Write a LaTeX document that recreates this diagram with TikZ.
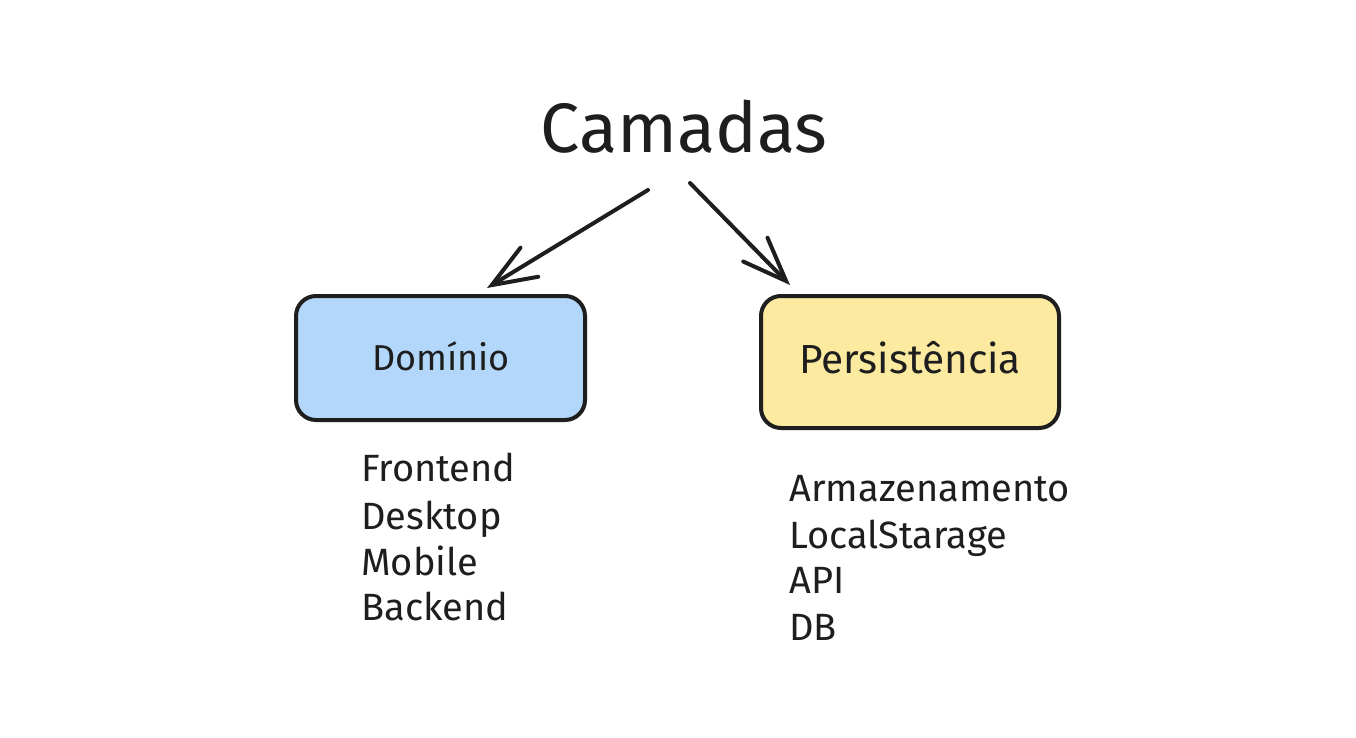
\documentclass[tikz,border=0pt]{standalone}
\usepackage{fontspec}
\setmainfont{Fira Sans}
\usetikzlibrary{arrows.meta}
\definecolor{ink}{HTML}{1E1E1E}
\definecolor{boxblue}{HTML}{B2D7FA}
\definecolor{boxyellow}{HTML}{FBEA9F}
\tikzset{
  layerbox/.style={draw=ink, line width=2pt, rounded corners=10pt, inner sep=0pt},
  listitem/.style={anchor=base west, inner sep=0pt, text=ink, font=\fontsize{19}{23}\selectfont},
  connector/.style={draw=ink, line width=2pt, line cap=round, line join=round,
    -{Straight Barb[length=22pt,width=17pt,line cap=round]}},
}
\begin{document}
\begin{tikzpicture}[x=0.5pt,y=-0.5pt]
\useasboundingbox[fill=white] (0,0) rectangle (1356,738);
% title
\node[anchor=base, inner sep=0pt, text=ink, font=\fontsize{35}{40}\selectfont] (title) at (684,153) {Camadas};
% boxes
\path[layerbox, fill=boxblue] (296,296) rectangle (585,420) node[pos=0.5, name=dombox] {};
\path[layerbox, fill=boxyellow] (761,296) rectangle (1059,428) node[pos=0.5, name=perbox] {};
\node[anchor=base, inner sep=0pt, text=ink, font=\fontsize{18}{22}\selectfont] (dom) at (441,370) {Domínio};
\node[anchor=base, inner sep=0pt, text=ink, font=\fontsize{20.3}{22}\selectfont] (per) at (910,373) {Persistência};
% arrows
\coordinate (a1s) at (648,190);
\coordinate (a1e) at (487,288);
\coordinate (a2s) at (690,183);
\coordinate (a2e) at (790,285);
\draw[connector] (a1s) -- (a1e);
\draw[connector] (a2s) -- (a2e);
% lists
\node[listitem] (f1) at (361,481) {Frontend};
\node[listitem] (f2) at (361,529) {Desktop};
\node[listitem] (f3) at (361,575) {Mobile};
\node[listitem] (f4) at (361,620) {Backend};
\node[listitem] (p1) at (789,501) {Armazenamento};
\node[listitem] (p2) at (789,548) {LocalStarage};
\node[listitem] (p3) at (789,593) {API};
\node[listitem] (p4) at (789,640) {DB};
\end{tikzpicture}
\end{document}
